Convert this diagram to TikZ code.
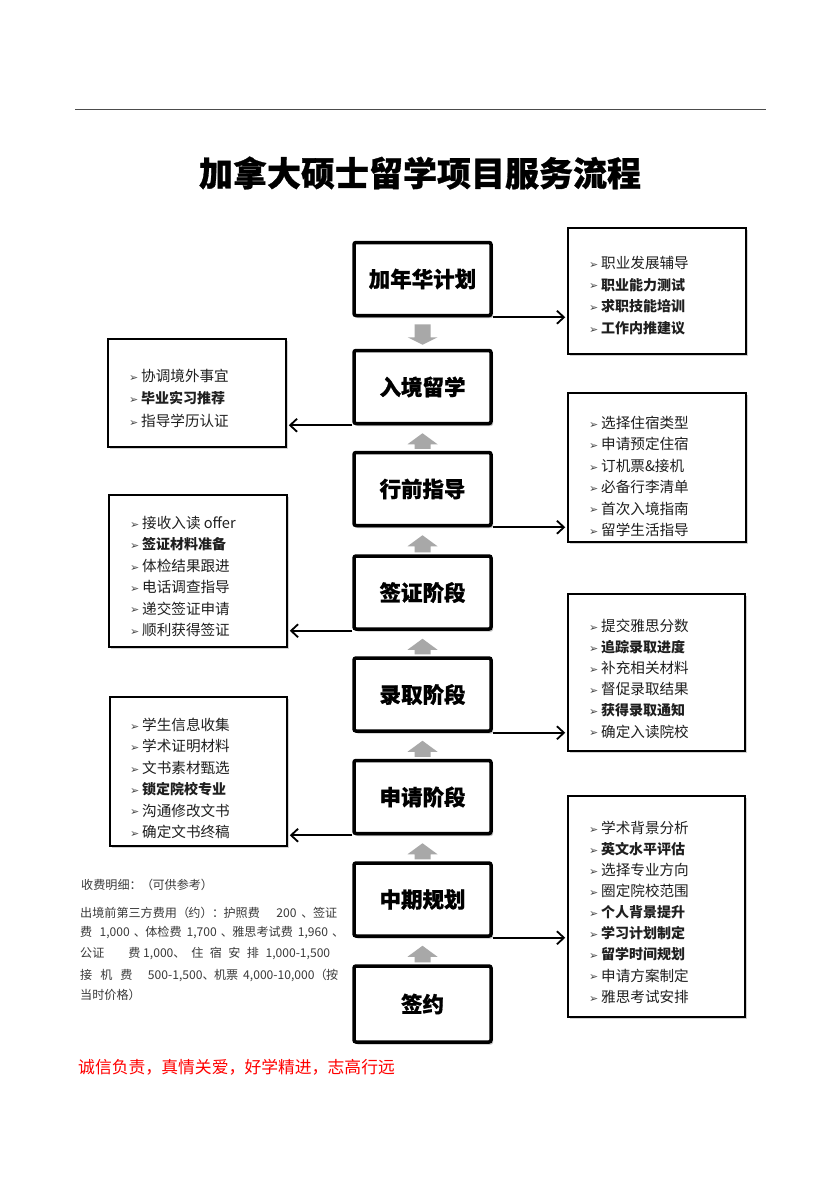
\documentclass[tikz,border=0pt]{standalone}
\usepackage{fontspec}
\setmainfont{Noto Sans CJK SC}
\newfontfamily\heavyfont{Noto Sans CJK SC}[BoldFeatures={FakeBold=0.8}]
\newfontfamily\dvfont{DejaVu Sans}
\usetikzlibrary{arrows.meta,calc,shadows}
\definecolor{arrgrey}{HTML}{A8A8A8}
\definecolor{feegrey}{HTML}{3A3A3A}
\newcommand\bul{\makebox[12pt][l]{\raisebox{0.3pt}{\dvfont\fontsize{11}{11}\selectfont\color{black!72}➢}}}
\newcommand\fw[1]{\makebox[0.95em][l]{#1}}
\newcommand\bb[1]{{\fontsize{14}{16}\selectfont\bfseries #1}}
\newcommand\itemlist[5]{%
  \foreach \t [count=\i] in {#5} {\node[itemtxt] (#1-\i) at (#2,{#3+(\i-1)*#4}) {\bul\t};}}
\newcommand\blkup[2]{%
  \fill[arrgrey] ($(#1.north)+(-8,-2)$) -- ($(#2.south)+(-8,19)$) -- ($(#2.south)+(-15,19)$) -- ($(#2.south)+(0,8)$) -- ($(#2.south)+(15,19)$) -- ($(#2.south)+(8,19)$) -- ($(#1.north)+(8,-2)$) -- cycle;}
\begin{document}
\begin{tikzpicture}[x=1pt,y=-1pt,
  mainbox/.style={draw=black, line width=3.5pt, rounded corners=2pt, fill=white,
    minimum width=137pt, minimum height=73pt, inner sep=0pt,
    font=\heavyfont\fontsize{21.5}{24}\selectfont\bfseries,
    drop shadow={shadow xshift=2pt,shadow yshift=-2.5pt,fill=black!40,opacity=0.6}},
  sidebox/.style={draw=black, line width=2.5pt, fill=white, inner sep=0pt,
    drop shadow={shadow xshift=1.5pt,shadow yshift=-1.5pt,fill=black!35,opacity=0.5}},
  itemtxt/.style={anchor=west, inner sep=0pt, font=\fontsize{14.6}{16}\selectfont, text=black!88},
  feetxt/.style={anchor=west, inner sep=0pt, font=\fontsize{12.1}{14}\selectfont, text=feegrey},
  link/.style={line width=1.8pt, shorten >=1.5pt, -{Straight Barb[length=7pt,width=13pt,line width=1.8pt]}}
]
\useasboundingbox (0,0) rectangle (840,1188);
\fill[white] (0,0) rectangle (840,1188);

% top rule
\draw[line width=1pt, black!70] (75,110) -- (766,110);

% title
\node[inner sep=0pt] (title) at (420,173) {\heavyfont\fontsize{34}{40}\selectfont\bfseries 加拿大硕士留学项目服务流程};

% central boxes
\node[mainbox] (A) at (422.5,279) {加年华计划};
\node[mainbox] (B) at (422.5,387) {入境留学};
\node[mainbox] (C) at (422.5,489) {行前指导};
\node[mainbox] (D) at (422.5,592.5) {签证阶段};
\node[mainbox] (E) at (422.5,694.5) {录取阶段};
\node[mainbox] (F) at (422.5,797) {申请阶段};
\node[mainbox] (G) at (422.5,899.5) {中期规划};
\node[mainbox, minimum height=76pt] (H) at (422.5,1004) {签约};

% side boxes
\node[sidebox, minimum width=178pt, minimum height=126pt] (R1) at (657,291) {};
\node[sidebox, minimum width=178pt, minimum height=108pt] (L1) at (197,393) {};
\node[sidebox, minimum width=178pt, minimum height=149pt] (R2) at (657,467.5) {};
\node[sidebox, minimum width=178pt, minimum height=152pt] (L2) at (198,571) {};
\node[sidebox, minimum width=177pt, minimum height=157pt] (R3) at (656.5,672.5) {};
\node[sidebox, minimum width=177pt, minimum height=149pt] (L3) at (198.5,771.5) {};
\node[sidebox, minimum width=177pt, minimum height=221pt] (R4) at (656.5,906.5) {};

% block arrows
\fill[arrgrey] ($(A.south)+(-8,7)$) -- ($(A.south)+(-8,20)$) -- ($(A.south)+(-15,20)$) -- ($(B.north)+(0,-4)$) -- ($(A.south)+(15,20)$) -- ($(A.south)+(8,20)$) -- ($(A.south)+(8,7)$) -- cycle;
\blkup{C}{B}
\blkup{D}{C}
\blkup{E}{D}
\blkup{F}{E}
\blkup{G}{F}
\blkup{H}{G}

% links
\draw[link] (A.south east) -- (A.south east -| R1.west);
\draw[link] (B.south west) -- (B.south west -| L1.east);
\draw[link] (C.south east) -- (C.south east -| R2.west);
\draw[link] (D.south west) -- (D.south west -| L2.east);
\draw[link] (E.south east) -- (E.south east -| R3.west);
\draw[link] (F.south west) -- (F.south west -| L3.east);
\draw[link] (G.south east) -- (G.south east -| R4.west);

% lists
\itemlist{r1}{589}{263}{21.7}{职业发展辅导,\bb{职业能力测试},\bb{求职技能培训},\bb{工作内推建议}}
\itemlist{l1}{129}{376}{22.5}{协调境外事宜,\bb{毕业实习推荐},指导学历认证}
\itemlist{r2}{589}{423}{21.4}{选择住宿类型,申请预定住宿,订机票\&接机,必备行李清单,首次入境指南,留学生活指导}
\itemlist{l2}{130}{523}{21.4}{接收入读 offer,\bb{签证材料准备},体检结果跟进,电话调查指导,递交签证申请,顺利获得签证}
\itemlist{r3}{589}{626}{21.1}{提交雅思分数,\bb{追踪录取进度},补充相关材料,督促录取结果,\bb{获得录取通知},确定入读院校}
\itemlist{l3}{130}{725}{21.4}{学生信息收集,学术证明材料,文书素材甄选,\bb{锁定院校专业},沟通修改文书,确定文书终稿}
\itemlist{r4}{589}{828}{21.1}{学术背景分析,\bb{英文水平评估},选择专业方向,圈定院校范围,\bb{个人背景提升},\bb{学习计划制定},\bb{留学时间规划},申请方案制定,雅思考试安排}

% fees
\node[feetxt] (fee0) at (81,885) {收费明细\fw{：}\fw{（}可供参考\fw{）}};
\node[feetxt] (fee1) at (80,913) {\makebox[257pt][l]{出境前第三方费用\fw{（}约\fw{）}\fw{：}护照费\hfill 200\hspace{5pt}\fw{、}签证}};
\node[feetxt] (fee2) at (80,933) {\makebox[264pt][l]{费\hfill 1,000\hspace{4pt}\fw{、}体检费\hspace{5pt}1,700\hspace{4pt}\fw{、}雅思考试费\hspace{5pt}1,960\hspace{4pt}、}};
\node[feetxt] (fee3) at (80,954) {\makebox[250pt][l]{公证\hspace{24pt}费 1,000\fw{、}\hfill 住\hfill 宿\hfill 安\hfill 排\hfill 1,000-1,500}};
\node[feetxt] (fee4) at (80,975) {\makebox[258pt][l]{接\hspace{8pt}机\hspace{8pt}费\hfill 500-1,500\fw{、}机票\hspace{5pt}4,000-10,000\fw{（}按}};
\node[feetxt] (fee5) at (80,995) {当时价格\fw{）}};

% motto
\node[anchor=west, inner sep=0pt, text=red, font=\fontsize{16.8}{18}\selectfont] (motto) at (78,1067) {诚信负责\fw{，}真情关爱\fw{，}好学精进\fw{，}志高行远};
\end{tikzpicture}
\end{document}
